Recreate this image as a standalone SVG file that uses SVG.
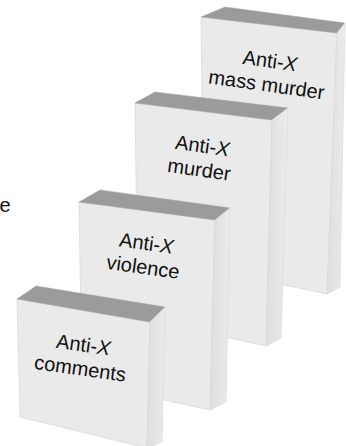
<svg xmlns="http://www.w3.org/2000/svg" width="346" height="446" viewBox="0 0 346 446">
  <defs>
    <linearGradient id="side" x1="0" y1="0" x2="1" y2="0">
      <stop offset="0" stop-color="#dedede"/>
      <stop offset="1" stop-color="#ebebeb"/>
    </linearGradient>
    <style>
      .front { fill: #eaeaea; stroke: #dadada; stroke-width: 0.8; }
      .top { fill: #9b9b9b; stroke: #a3a3a3; stroke-width: 0.5; }
      .side { fill: url(#side); stroke: #d6d6d6; stroke-width: 0.6; }
      .lbl { font-family: "Liberation Sans", Arial, sans-serif; font-size: 20px; fill: #111; text-anchor: middle; }
      .x { font-style: italic; }
    </style>
  </defs>
  <rect width="346" height="446" fill="#ffffff"/>
  <text class="lbl" x="5" y="212">e</text>

  <g id="mass-murder">
    <polygon class="front" points="201,17 337,33 327,294 204,268"/>
    <polygon class="top" points="201,17 225,7 345,23 337,33"/>
    <polygon class="side" points="337,33 345,23 340,287 327,294"/>
    <text class="lbl" transform="rotate(8 269 67.5)"><tspan x="269" y="67.5">Anti-<tspan class="x">X</tspan></tspan><tspan x="269" y="91.5">mass murder</tspan></text>
  </g>

  <g id="murder">
    <polygon class="front" points="135,103 272,120 266,346 138,318"/>
    <polygon class="top" points="135,103 155,92 288,108 272,120"/>
    <polygon class="side" points="272,120 288,108 281,338 266,346"/>
    <text class="lbl" transform="rotate(8 201.5 152.5)"><tspan x="201.5" y="152.5">Anti-<tspan class="x">X</tspan></tspan><tspan x="201.5" y="176.5">murder</tspan></text>
  </g>

  <g id="violence">
    <polygon class="front" points="79,202 215,220 210,410 82,382"/>
    <polygon class="top" points="79,202 100,190 230,208 215,220"/>
    <polygon class="side" points="215,220 230,208 226,402 210,410"/>
    <text class="lbl" transform="rotate(8 145.5 250)"><tspan x="145.5" y="250">Anti-<tspan class="x">X</tspan></tspan><tspan x="145.5" y="274">violence</tspan></text>
  </g>

  <g id="comments">
    <polygon class="front" points="17,299 150,322 147,448 20,417"/>
    <polygon class="top" points="17,299 36,286 165,307 150,322"/>
    <polygon class="side" points="150,322 165,307 162,442 147,448"/>
    <text class="lbl" transform="rotate(8 82.5 351.5)"><tspan x="82.5" y="351.5">Anti-<tspan class="x">X</tspan></tspan><tspan x="82.5" y="375.5">comments</tspan></text>
  </g>

  <g id="connectors"/>
</svg>
